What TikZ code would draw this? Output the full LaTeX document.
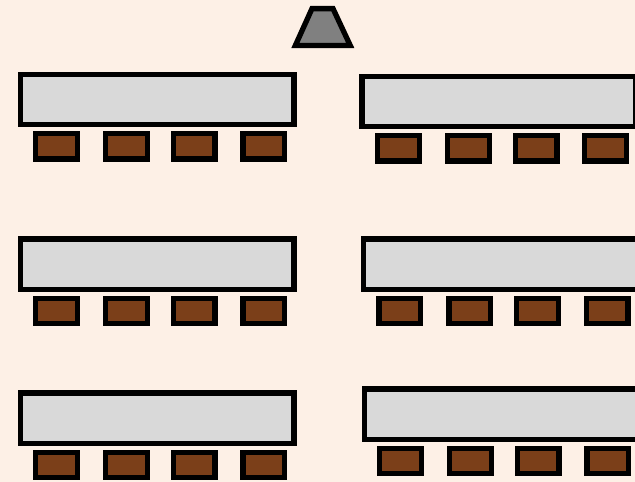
\documentclass[tikz,border=0pt]{standalone}
\definecolor{bgc}{HTML}{FDF0E6}
\definecolor{tablec}{HTML}{D9D9D9}
\definecolor{chairc}{HTML}{7B3F19}
\definecolor{podiumc}{HTML}{808080}
\tikzset{
  tablebox/.style={draw=black,fill=tablec,line width=5.3pt,miter limit=10},
  chairbox/.style={draw=black,fill=chairc,line width=5.3pt},
  podiumbox/.style={draw=black,fill=podiumc,line width=5.3pt,line join=miter,miter limit=10},
}
% #1,#2 = outer top-left corner of the table
\newcommand{\tablerow}[2]{%
  \draw[tablebox] (#1+2.65,#2+2.65) rectangle (#1+276.35,#2+53);
  \foreach \cx in {15.4,85.4,153.1,222.7}{
    \draw[chairbox] (#1+\cx+2.65,#2+62.3) rectangle (#1+\cx+44.4,#2+87.4);
  }%
}
\begin{document}
\begin{tikzpicture}[x=1pt,y=-1pt]
\useasboundingbox (0,0) rectangle (635,482);
\clip (0,0) rectangle (635,482);
\fill[bgc] (0,0) rectangle (635,482);
\draw[podiumbox] (312,8.6) -- (333,8.6) -- (350.2,45.4) -- (295.4,45.4) -- cycle;
\tablerow{17.6}{71.5}
\tablerow{17.6}{236.4}
\tablerow{17.6}{390.3}
\tablerow{359.4}{73.5}
\tablerow{360.8}{236.4}
\tablerow{361.6}{386.3}
\end{tikzpicture}
\end{document}
